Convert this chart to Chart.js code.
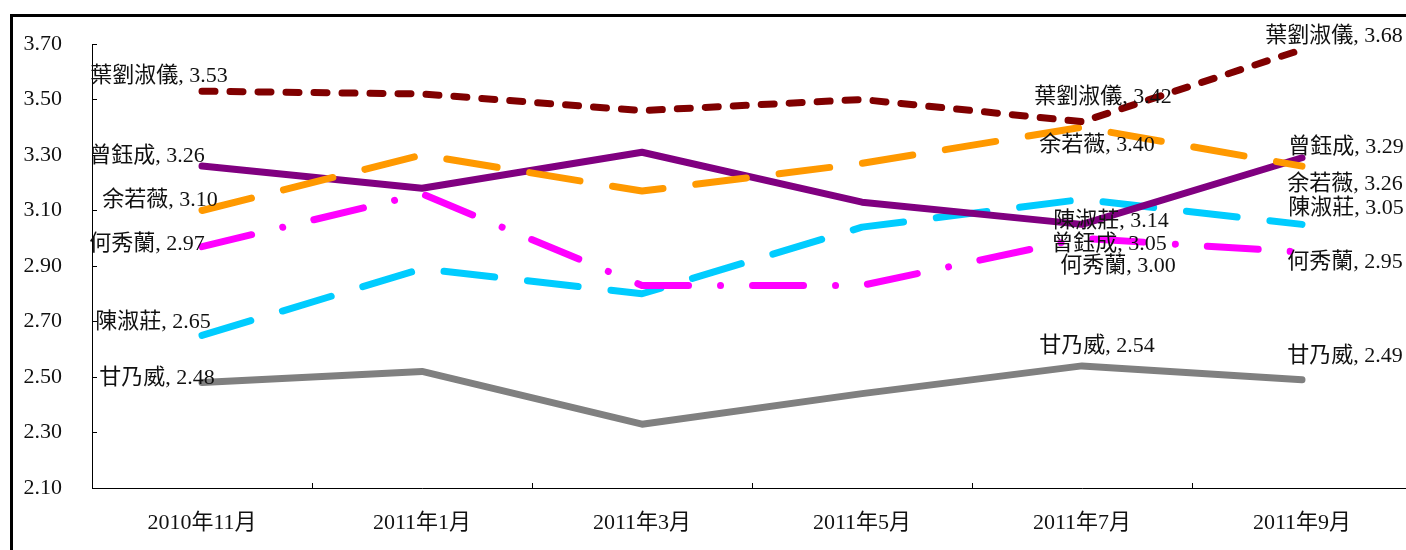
<!DOCTYPE html>
<html>
<head>
<meta charset="utf-8">
<script src="https://cdn.jsdelivr.net/npm/chart.js@4/dist/chart.umd.min.js"></script>
<style>
  html, body { margin: 0; padding: 0; background: #fff; overflow: hidden; }
  #frame { position: absolute; left: 10px; top: 14px; width: 1500px; height: 600px;
           border-left: 3px solid #000; border-top: 3px solid #000; }
  #wrap { position: absolute; left: 0; top: 0; width: 1412px; height: 550px; }
</style>
</head>
<body>
<div id="frame"></div>
<div id="wrap"><canvas id="chart" width="1412" height="550"></canvas></div>
<script>
// data
const months = ['2010年11月', '2011年1月', '2011年3月', '2011年5月', '2011年7月', '2011年9月'];
const names = ['葉劉淑儀', '余若薇', '曾鈺成', '何秀蘭', '陳淑莊', '甘乃威'];
const yeLau   = [3.53, 3.52, 3.46, 3.50, 3.42, 3.68];
const yu      = [3.10, 3.30, 3.17, 3.27, 3.40, 3.26];
const tsang   = [3.26, 3.18, 3.31, 3.13, 3.05, 3.29];
const ho      = [2.97, 3.16, 2.83, 2.83, 3.00, 2.95];
const chan    = [2.65, 2.89, 2.80, 3.04, 3.14, 3.05];
const kam     = [2.48, 2.52, 2.33, 2.44, 2.54, 2.49];
const yMin = 2.10, yMax = 3.70, yStep = 0.20;

// line styles
const colors = ['#800000', '#FF9900', '#800080', '#FF00FF', '#00CCFF', '#808080'];
const dashes = [[13, 15], [51, 33], [], [51, 32, 0.01, 32], [51, 33], []];

// where each value label sits, relative to its point (centre of text)
const labelSpots = [
    [{ i: 0, dx: -43, dy: -15 }, { i: 4, dx: 21, dy: -24 }, { i: 5, dx: 32, dy: -13 }],
    [{ i: 0, dx: -42, dy: -10 }, { i: 4, dx: 15, dy: 18 },  { i: 5, dx: 43, dy: 18 }],
    [{ i: 0, dx: -55, dy: -10 }, { i: 4, dx: 27, dy: 20 },  { i: 5, dx: 44, dy: -11 }],
    [{ i: 0, dx: -55, dy: -2 },  { i: 4, dx: 36, dy: 28 },  { i: 5, dx: 43, dy: 10 }],
    [{ i: 0, dx: -49, dy: -13 }, { i: 4, dx: 29, dy: 22 },  { i: 5, dx: 44, dy: -16 }],
    [{ i: 0, dx: -45, dy: -4 },  { i: 4, dx: 15, dy: -20 }, { i: 5, dx: 43, dy: -24 }]
];

const FONT = '"Liberation Serif", "Noto Sans CJK TC", serif';
Chart.defaults.font.family = FONT;
Chart.defaults.font.size = 22;
Chart.defaults.color = '#111';

const series = [yeLau, yu, tsang, ho, chan, kam];

const valueLabels = {
    id: 'valueLabels',
    afterDatasetsDraw(chart) {
        const ctx = chart.ctx;
        ctx.save();
        ctx.font = '22px ' + FONT;
        ctx.fillStyle = '#111';
        ctx.textAlign = 'center';
        ctx.textBaseline = 'middle';
        chart.data.datasets.forEach((ds, d) => {
            const meta = chart.getDatasetMeta(d);
            labelSpots[d].forEach(s => {
                const pt = meta.data[s.i];
                ctx.fillText(ds.label + ', ' + ds.data[s.i].toFixed(2), pt.x + s.dx, pt.y + s.dy);
            });
        });
        ctx.restore();
    }
};

new Chart(document.getElementById('chart'), {
    type: 'line',
    data: {
        labels: months,
        datasets: names.map((n, k) => ({
            label: n,
            data: series[k],
            borderColor: colors[k],
            backgroundColor: colors[k],
            borderWidth: 7,
            borderDash: dashes[k],
            borderCapStyle: 'round',
            borderJoinStyle: 'round',
            pointRadius: 0,
            tension: 0,
            fill: false
        }))
    },
    options: {
        responsive: false,
        animation: false,
        layout: { padding: { top: 44, left: 0, right: 0, bottom: 0 } },
        plugins: {
            legend: { display: false },
            tooltip: { enabled: false }
        },
        scales: {
            x: {
                offset: true,
                grid: { offset: true, drawOnChartArea: false, drawTicks: true, tickLength: -5, color: '#000' },
                border: { color: '#000', width: 1 },
                ticks: { padding: 27, maxRotation: 0 },
                afterFit: s => { s.height = 62; }
            },
            y: {
                min: yMin,
                max: yMax,
                grid: { drawOnChartArea: false, drawTicks: true, tickLength: -5, color: '#000' },
                border: { color: '#000', width: 1 },
                ticks: { stepSize: yStep, padding: 35, callback: v => Number(v).toFixed(2) },
                afterFit: s => { s.width = 92; s.paddingTop = 14; s.paddingBottom = 14; }
            }
        }
    },
    plugins: [valueLabels]
});
</script>
</body>
</html>
